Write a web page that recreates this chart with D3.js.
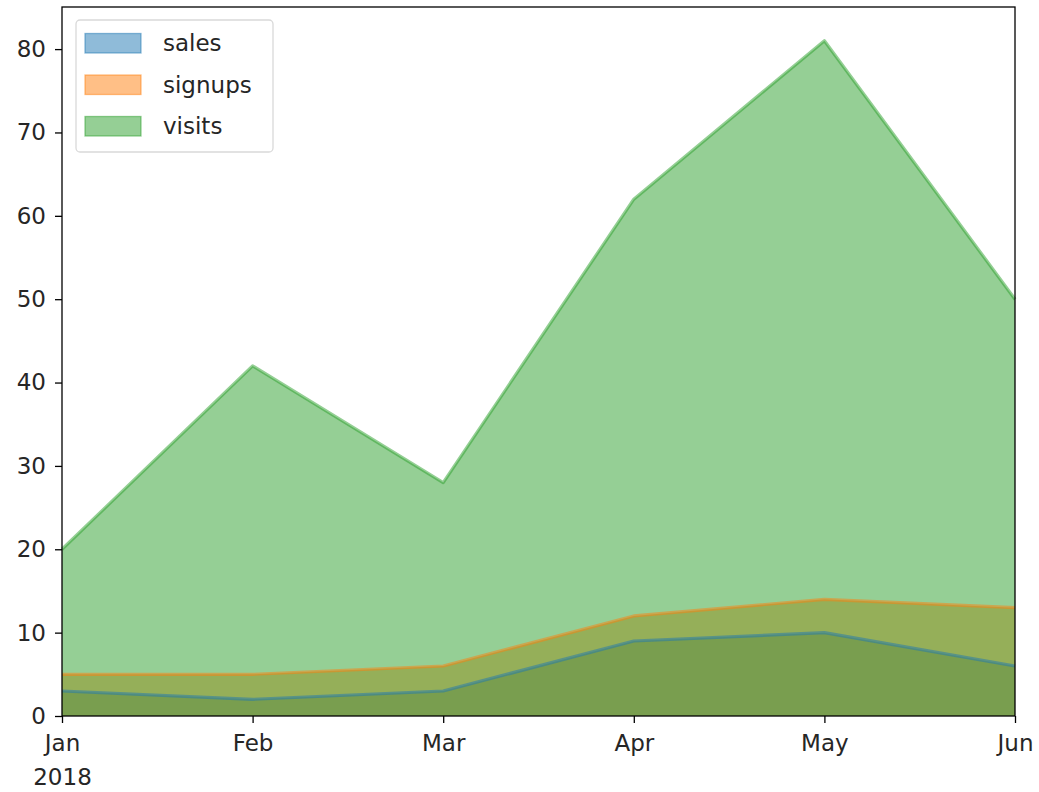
<!DOCTYPE html>
<html>
<head>
<meta charset="utf-8">
<script src="https://cdn.jsdelivr.net/npm/d3@7"></script>
<style>
  html, body { margin: 0; padding: 0; background: #fff; }
  svg { display: block; }
  text { font-family: "DejaVu Sans", sans-serif; fill: #262626; }
</style>
</head>
<body>
<svg id="chart" width="1039" height="792"></svg>
<script>
// Monthly metrics, January–June 2018
const months = ["Jan", "Feb", "Mar", "Apr", "May", "Jun"];
const sales = [3, 2, 3, 9, 10, 6];
const signups = [5, 5, 6, 12, 14, 13];
const visits = [20, 42, 28, 62, 81, 50];
const yTicks = [0, 10, 20, 30, 40, 50, 60, 70, 80];

const seriesNames = ["sales", "signups", "visits"];
const seriesValues = [sales, signups, visits];
const colors = ["#1f77b4", "#ff7f0e", "#2ca02c"];

const margin = { left: 62, right: 1015, top: 7, bottom: 716 };
const svg = d3.select("#chart");

const x = d3.scalePoint().domain(months).range([margin.left, margin.right]);
const yMax = d3.max(visits) * 1.05;
const y = d3.scaleLinear().domain([0, yMax]).range([margin.bottom, margin.top]);

const series = seriesValues.map(vals => vals.map((v, j) => ({ m: months[j], v })));
const area = d3.area().x(d => x(d.m)).y0(y(0)).y1(d => y(d.v));
const line = d3.line().x(d => x(d.m)).y(d => y(d.v));

// Overlapping (unstacked) half-transparent areas, outlines drawn above all fills
const fills = svg.append("g");
const lines = svg.append("g");
series.forEach((pts, i) => {
  fills.append("path").datum(pts).attr("d", area)
    .attr("fill", colors[i]).attr("fill-opacity", 0.5);
  lines.append("path").datum(pts).attr("d", line)
    .attr("fill", "none").attr("stroke", colors[i]).attr("stroke-opacity", 0.5)
    .attr("stroke-width", 3.2).attr("stroke-linejoin", "round");
});

// Axes
const fs = 23;
const yAxis = d3.axisLeft(y).tickValues(yTicks).tickSize(7).tickPadding(9);
const gy = svg.append("g").attr("transform", `translate(${margin.left},0)`).call(yAxis);
gy.select(".domain").remove();
gy.selectAll("line").attr("stroke", "#000").attr("stroke-width", 1.3);
gy.selectAll("text").attr("font-size", fs).attr("fill", "#262626")
  .style("font-family", "DejaVu Sans, sans-serif");

const xAxis = d3.axisBottom(x).tickSize(7).tickPadding(12);
const gx = svg.append("g").attr("transform", `translate(0,${margin.bottom})`).call(xAxis);
gx.select(".domain").remove();
gx.selectAll("line").attr("stroke", "#000").attr("stroke-width", 1.3);
gx.selectAll("text").attr("font-size", fs).attr("fill", "#262626")
  .style("font-family", "DejaVu Sans, sans-serif");
gx.selectAll(".tick").filter(d => d === "Jan").append("text")
  .attr("y", 19 + 34).attr("dy", "0.71em").attr("text-anchor", "middle")
  .attr("font-size", fs).attr("fill", "#262626")
  .style("font-family", "DejaVu Sans, sans-serif").text("2018");

// Frame
svg.append("rect").attr("x", margin.left).attr("y", margin.top)
  .attr("width", margin.right - margin.left).attr("height", margin.bottom - margin.top)
  .attr("fill", "none").attr("stroke", "#000").attr("stroke-width", 1.3);

// Legend
const lg = svg.append("g").attr("transform", "translate(76,20)");
lg.append("rect").attr("width", 197).attr("height", 132).attr("rx", 4)
  .attr("fill", "#fff").attr("fill-opacity", 0.8).attr("stroke", "#d9d9d9").attr("stroke-width", 1.3);
seriesNames.forEach((name, i) => {
  const cy = 23 + i * 41.5;
  lg.append("rect").attr("x", 9).attr("y", cy - 9.5).attr("width", 56).attr("height", 19.5)
    .attr("fill", colors[i]).attr("fill-opacity", 0.5)
    .attr("stroke", colors[i]).attr("stroke-opacity", 0.5).attr("stroke-width", 1.3);
  lg.append("text").attr("x", 87).attr("y", cy).attr("dy", "0.35em")
    .attr("font-size", fs).text(name);
});
</script>
</body>
</html>
